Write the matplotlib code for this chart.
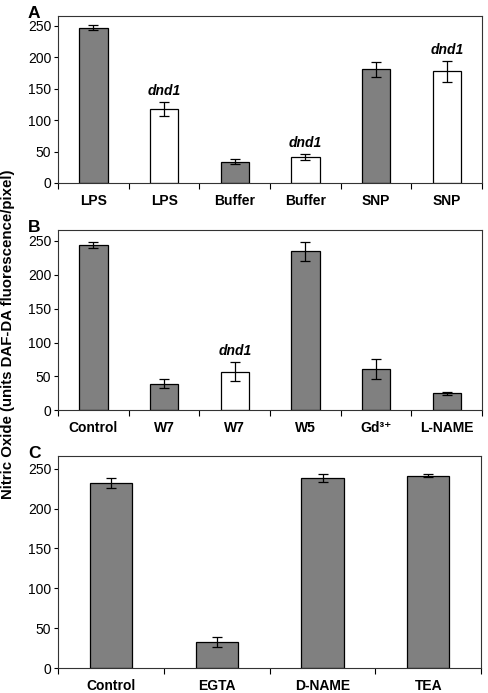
import numpy as np
import matplotlib
matplotlib.use('Agg')
import matplotlib.pyplot as plt

plt.rcParams['font.family'] = ['Liberation Sans', 'DejaVu Sans']

# panel A
a_labels = ['LPS', 'LPS', 'Buffer', 'Buffer', 'SNP', 'SNP']
a_values = [247, 118, 34, 41, 181, 178]
a_errors = [4, 11.5, 4.5, 5, 11.5, 16.5]
a_mutant = [False, True, False, True, False, True]

# panel B
b_labels = ['Control', 'W7', 'W7', 'W5', 'Gd\u00b3\u207a', 'L-NAME']
b_values = [244, 39, 57, 235, 61, 25]
b_errors = [4, 6.5, 14.5, 14, 15, 2]
b_mutant = [False, False, True, False, False, False]

# panel C
c_labels = ['Control', 'EGTA', 'D-NAME', 'TEA']
c_values = [232, 33, 239, 241.5]
c_errors = [6.5, 6.5, 5, 2]
c_mutant = [False, False, False, False]

fig = plt.figure(figsize=(4.88, 6.93), dpi=100)

def draw_panel(rect, letter, labels, values, errors, mutant):
	ax = fig.add_axes(rect)
	n = len(labels)
	x = np.arange(n)
	colors = ['white' if m else '#808080' for m in mutant]
	ax.bar(x, values, width=0.4, color=colors, edgecolor='black', linewidth=0.9, zorder=2)
	ax.errorbar(x, values, yerr=errors, fmt='none', ecolor='black', elinewidth=0.9, capsize=3.5, capthick=0.9, zorder=3)
	for i in range(n):
		if mutant[i]:
			ax.text(x[i], values[i] + errors[i] + 6, 'dnd1', ha='center', va='bottom',
				fontsize=10, fontweight='bold', fontstyle='italic')
	ax.set_xlim(-0.5, n - 0.5)
	ax.set_ylim(0, 266)
	ax.set_yticks([0, 50, 100, 150, 200, 250])
	ax.set_xticks(x)
	ax.set_xticklabels(labels, fontsize=10, fontweight='bold')
	ax.set_xticks(np.arange(n + 1) - 0.5, minor=True)
	ax.tick_params(axis='x', which='major', length=0, pad=8)
	ax.tick_params(axis='x', which='minor', length=4, direction='out', width=0.8)
	ax.tick_params(axis='y', labelsize=10, length=3, width=0.8, pad=2)
	for s in ax.spines.values():
		s.set_linewidth(0.8)
		s.set_color('#333333')
	fig.text(rect[0] - 0.062, rect[1] + rect[3] + 0.004, letter, fontsize=12.5, fontweight='bold', va='center')
	return ax

draw_panel([0.119, 0.736, 0.869, 0.241], 'A', a_labels, a_values, a_errors, a_mutant)
draw_panel([0.119, 0.408, 0.869, 0.260], 'B', b_labels, b_values, b_errors, b_mutant)
draw_panel([0.119, 0.036, 0.867, 0.306], 'C', c_labels, c_values, c_errors, c_mutant)

fig.text(0.017, 0.518, 'Nitric Oxide (units DAF-DA fluorescence/pixel)', rotation=90,
	ha='center', va='center', fontsize=10.8, fontweight='bold')

plt.savefig('out.png', dpi=100)
